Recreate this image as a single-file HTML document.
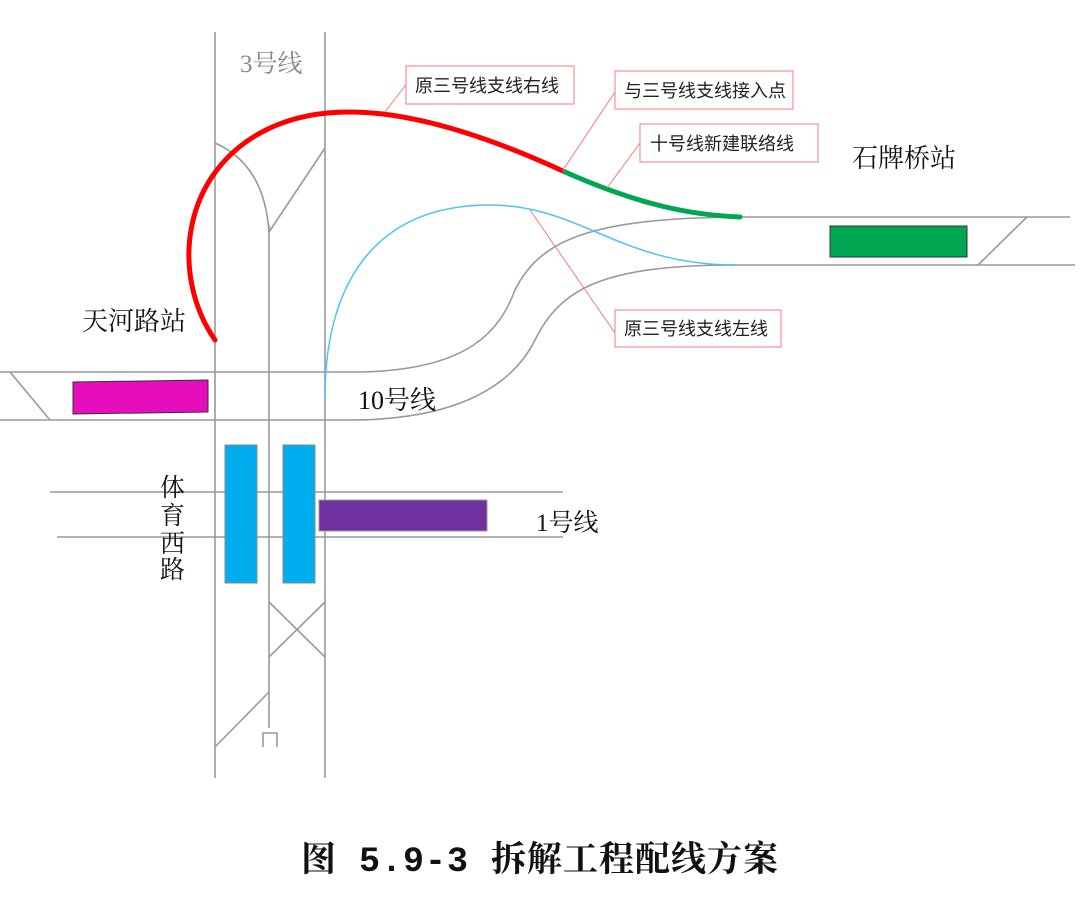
<!DOCTYPE html>
<html><head><meta charset="utf-8"><style>
body{margin:0;background:#fff;width:1080px;height:901px;overflow:hidden}
svg text{font-family:"Liberation Serif","Noto Serif CJK SC",serif}
.cj{font-family:"Liberation Sans","Noto Sans CJK SC",sans-serif}
</style></head><body>
<svg width="1080" height="901" viewBox="0 0 1080 901" xmlns="http://www.w3.org/2000/svg">
<g stroke="#999" stroke-width="1.6" fill="none">
<line x1="215" y1="32" x2="215" y2="778"/>
<line x1="325" y1="32" x2="325" y2="778"/>
<line x1="269" y1="225" x2="269" y2="728"/>
<path d="M215,143 Q265,165 269,233"/>
<line x1="325" y1="148" x2="269" y2="232"/>
<line x1="269" y1="602" x2="325" y2="657"/>
<line x1="325" y1="602" x2="269" y2="657"/>
<line x1="269" y1="692" x2="215" y2="747"/>
<path d="M263,747 V733 H277 V747"/>
<path d="M0,372 L360,372 C470,370 500,330 515,290 C540,240 590,218 740,217"/>
<path d="M0,420 L350,420 C450,420 510,390 535,340 C560,290 600,265 735,265"/>
<line x1="10" y1="372" x2="50" y2="420"/>
<line x1="740" y1="217" x2="1070" y2="217"/>
<line x1="730" y1="265" x2="1075" y2="265"/>
<line x1="978" y1="265" x2="1027" y2="217"/>
<line x1="50" y1="492" x2="563" y2="492"/>
<line x1="57" y1="537" x2="563" y2="537"/>
</g>
<rect x="830" y="226" width="137" height="31" fill="#00a651" stroke="#333" stroke-width="1"/>
<polygon points="73,382 208,380 208,412 73,414" fill="#e60ebc" stroke="#333" stroke-width="1"/>
<rect x="225" y="445" width="32" height="138" fill="#00aeef" stroke="#888" stroke-width="1"/>
<rect x="283" y="445" width="32" height="138" fill="#00aeef" stroke="#888" stroke-width="1"/>
<rect x="319" y="500" width="168" height="31" fill="#7030a0" stroke="#999" stroke-width="1"/>
<path d="M325,397 C325,290 370,205 490,205 C580,205 620,265 735,265" fill="none" stroke="#4fc3f7" stroke-width="1.5"/>
<path d="M215,340 C170,275 180,170 270,128 C330,100 420,105 565,172" fill="none" stroke="#f00" stroke-width="5" stroke-linecap="round"/>
<path d="M565,172 C640,205 690,215 740,217" fill="none" stroke="#00a651" stroke-width="5" stroke-linecap="round"/>
<g stroke="#f77" stroke-width="1" fill="#fff">
<line x1="408" y1="82" x2="385" y2="112"/>
<line x1="615" y1="92" x2="563" y2="170"/>
<line x1="640" y1="143" x2="607" y2="188"/>
<line x1="615" y1="333" x2="530" y2="210"/>
<rect x="406" y="66" width="168" height="38"/>
<rect x="615" y="71" width="178" height="38"/>
<rect x="640" y="124" width="178" height="38"/>
<rect x="615" y="310" width="166" height="37"/>
</g>
<g font-size="18" fill="#222">
<text x="415" y="92" class="cj">原三号线支线右线</text>
<text x="624" y="97" class="cj">与三号线支线接入点</text>
<text x="650" y="150" class="cj">十号线新建联络线</text>
<text x="624" y="335" class="cj">原三号线支线左线</text>
</g>
<text x="240" y="72" font-size="25" fill="#888">3号线</text>
<text x="82" y="330" font-size="26" fill="#111">天河路站</text>
<text x="852" y="167" font-size="26" fill="#111">石牌桥站</text>
<text x="358" y="409" font-size="26" fill="#111">10号线</text>
<text x="536" y="531" font-size="25" fill="#111">1号线</text>
<g font-size="25" fill="#111">
<text x="160" y="496">体</text><text x="160" y="524">育</text><text x="160" y="552">西</text><text x="160" y="578">路</text>
</g>
<text x="540" y="871" font-size="35" font-weight="bold" text-anchor="middle" letter-spacing="1" fill="#111" style="font-family:'Liberation Mono','Noto Serif CJK SC',serif">图 5.9-3 拆解工程配线方案</text>
</svg>
</body></html>
